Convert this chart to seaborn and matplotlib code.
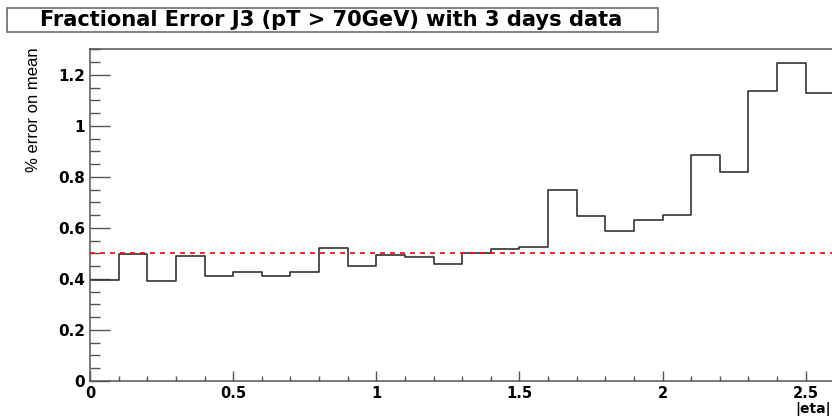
import numpy as np
import pandas as pd
import matplotlib
matplotlib.use("Agg")
import matplotlib.pyplot as plt
import seaborn as sns
from matplotlib.patches import Rectangle
from matplotlib.ticker import MultipleLocator

# ---- data ----
eta_edges = [0.0, 0.1, 0.2, 0.3, 0.4, 0.5, 0.6, 0.7, 0.8, 0.9, 1.0, 1.1, 1.2,
             1.3, 1.4, 1.5, 1.6, 1.7, 1.8, 1.9, 2.0, 2.1, 2.2, 2.3, 2.4, 2.5, 2.6]
err_values = [0.396, 0.498, 0.390, 0.490, 0.410, 0.426, 0.412, 0.429, 0.520,
              0.452, 0.495, 0.484, 0.460, 0.503, 0.518, 0.527, 0.750, 0.647,
              0.588, 0.629, 0.650, 0.886, 0.820, 1.138, 1.246, 1.127]
ref_level = 0.5
title_text = "Fractional Error J3 (pT > 70GeV) with 3 days data"
xlabel_text = "|eta|"
ylabel_text = "% error on mean"
xticks = [0, 0.5, 1, 1.5, 2, 2.5]
xticklabels = ["0", "0.5", "1", "1.5", "2", "2.5"]
yticks = [0, 0.2, 0.4, 0.6, 0.8, 1.0, 1.2]
yticklabels = ["0", "0.2", "0.4", "0.6", "0.8", "1", "1.2"]

edges = np.array(eta_edges)
centers = (edges[:-1] + edges[1:]) / 2
df = pd.DataFrame({"eta": centers, "err": err_values})

sns.set_style("white")
plt.rcParams["font.family"] = ["DejaVu Sans"]
plt.rcParams["text.color"] = "black"

W, H = 832, 416
fig = plt.figure(figsize=(W / 100, H / 100), dpi=100)
ax = fig.add_axes([90 / W, 1 - 381 / H, (W - 90) / W, (381 - 49) / H])

sns.histplot(data=df, x="eta", weights="err", bins=list(eta_edges),
             element="step", fill=False, color="#333333", linewidth=1.2, ax=ax)
ax.axhline(ref_level, color="#ff0000", linestyle=(0, (3, 3)), linewidth=1.2)

ax.set_xlim(0, 2.592)
ax.set_ylim(0, 1.301)
ax.set_xlabel("")
ax.set_ylabel("")

ax.set_xticks(xticks)
ax.set_xticklabels(xticklabels)
ax.set_yticks(yticks)
ax.set_yticklabels(yticklabels)
ax.xaxis.set_minor_locator(MultipleLocator(0.1))
ax.yaxis.set_minor_locator(MultipleLocator(0.05))

tick_color = "#555555"
ax.tick_params(axis="both", which="both", bottom=True, left=True, top=False,
               right=False)
ax.tick_params(axis="x", which="major", direction="in", length=7.2, width=1.0,
               color=tick_color, pad=3.5, labelsize=10.5, labelcolor="black")
ax.tick_params(axis="x", which="minor", direction="in", length=3.6, width=1.0,
               color=tick_color)
ax.tick_params(axis="y", which="major", direction="in", length=14.4, width=1.0,
               color=tick_color, pad=3.6, labelsize=11, labelcolor="black")
ax.tick_params(axis="y", which="minor", direction="in", length=7.2, width=1.0,
               color=tick_color)
for lab in ax.get_xticklabels() + ax.get_yticklabels():
    lab.set_fontweight("bold")

for side in ["left", "bottom", "top"]:
    ax.spines[side].set_visible(True)
    ax.spines[side].set_color("#555555")
    ax.spines[side].set_linewidth(1.1)
ax.spines["right"].set_visible(False)

# y label (ROOT style, top-aligned)
fig.text(33.5 / W, 1 - 47 / H, ylabel_text, rotation=90, ha="center", va="top",
         fontsize=12, color="black", family=["Liberation Sans", "DejaVu Sans"])
# x label at right end
fig.text(831 / W, 0.0, xlabel_text, ha="right", va="bottom",
         fontsize=10, fontweight="bold", color="black")

# title box
fig.patches.append(Rectangle((7 / W, 1 - 32 / H), (658 - 7) / W, (32 - 8) / H,
                             transform=fig.transFigure, facecolor="white",
                             edgecolor="#777777", linewidth=1.3))
t = fig.text(331.5 / W, 1 - 20.5 / H, title_text, ha="center", va="center",
             fontsize=14, fontweight="bold", color="black")
fig.canvas.draw()
r = fig.canvas.get_renderer()
wpx = t.get_window_extent(r).width
t.set_fontsize(14 * 585 / wpx)

fig.savefig("out.png", dpi=100)
